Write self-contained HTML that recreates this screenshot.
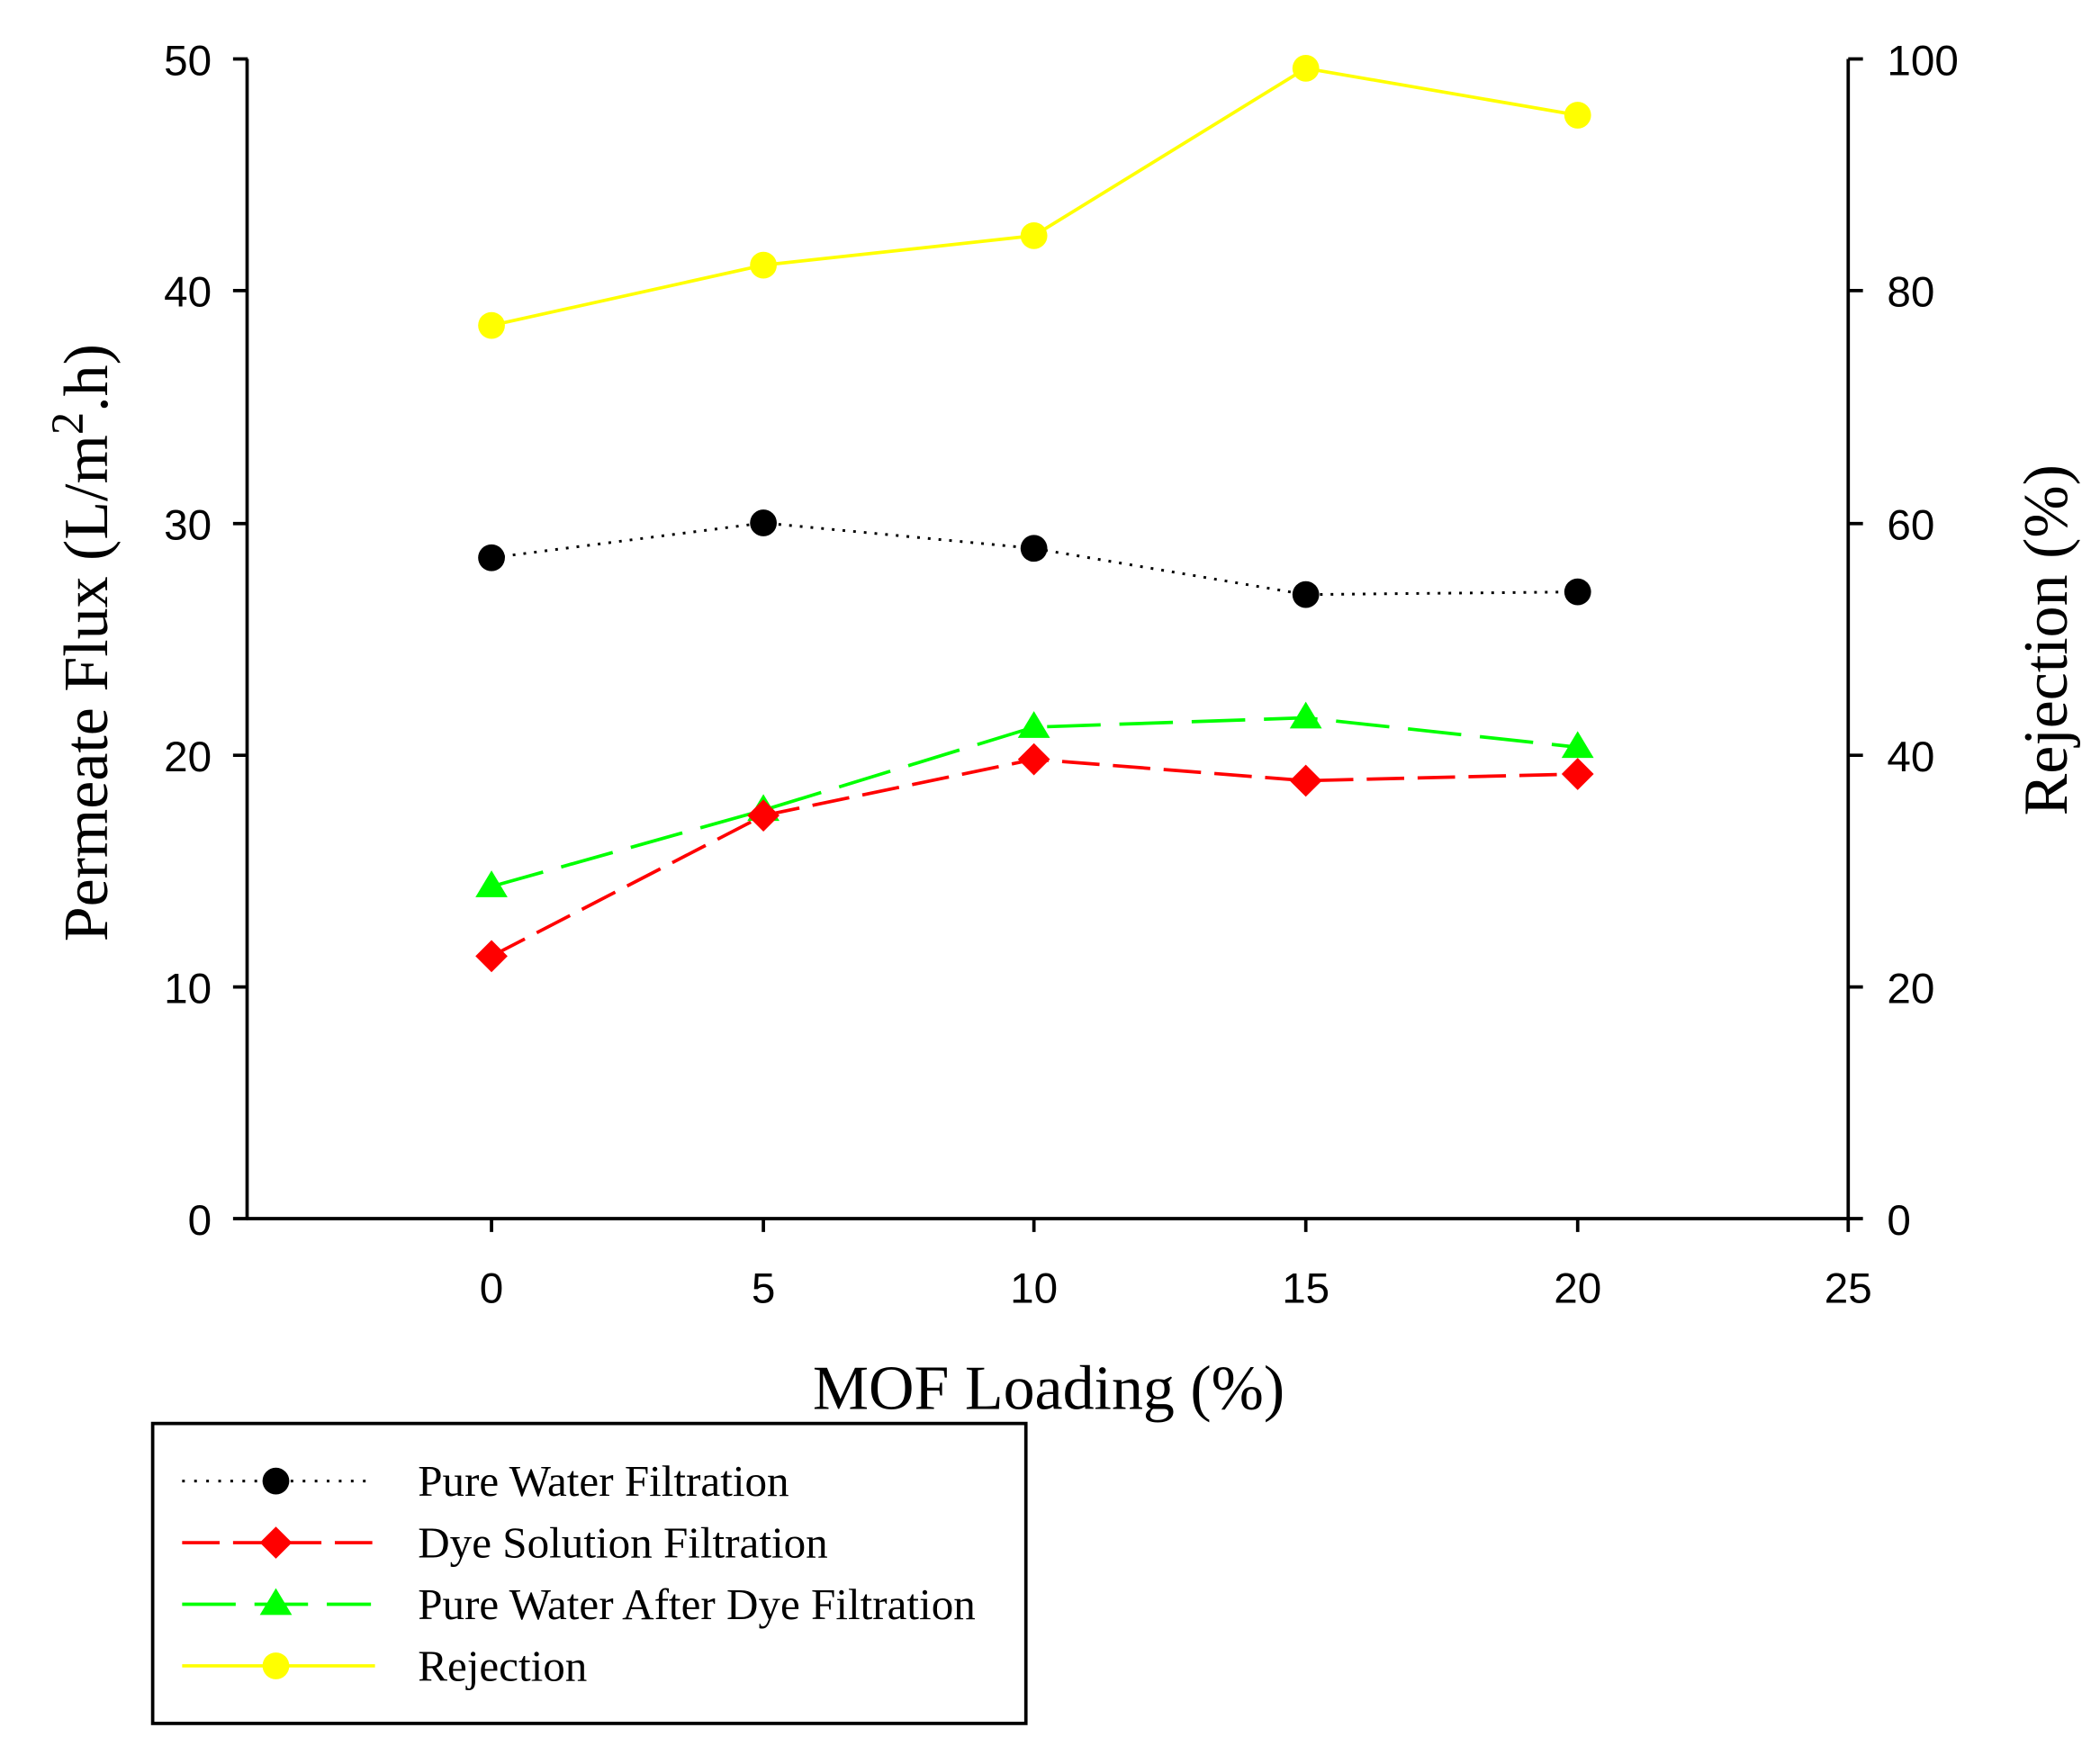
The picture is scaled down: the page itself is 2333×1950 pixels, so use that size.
<!DOCTYPE html><html><head><style>body{margin:0;background:#fff}</style></head><body>
<svg width="2333" height="1945" viewBox="0 0 1568 1307.2" xmlns="http://www.w3.org/2000/svg">
<rect width="1568" height="1308" fill="#fff"/>
<g stroke="#000" stroke-width="2.5" fill="none">
<line x1="184.5" y1="44" x2="184.5" y2="911"/>
<line x1="1380" y1="44" x2="1380" y2="911"/>
<line x1="184" y1="910" x2="1391" y2="910"/>
<path d="M174 44H185M174 217H185M174 391H185M174 564H185M174 737H185M174 910H185"/>
<path d="M1380 44H1391M1380 217H1391M1380 391H1391M1380 564H1391M1380 737H1391"/>
<path d="M367 910V920M570 910V920M772 910V920M975 910V920M1178 910V920M1380 910V920"/>
</g>
<g font-family="Liberation Sans, sans-serif" font-size="32" fill="#000">
<g text-anchor="end"><text x="158" y="56">50</text><text x="158" y="229">40</text><text x="158" y="403">30</text><text x="158" y="576">20</text><text x="158" y="749">10</text><text x="158" y="922">0</text></g>
<g text-anchor="start"><text x="1409" y="56">100</text><text x="1409" y="229">80</text><text x="1409" y="403">60</text><text x="1409" y="576">40</text><text x="1409" y="749">20</text><text x="1409" y="922">0</text></g>
<g text-anchor="middle"><text x="367" y="973">0</text><text x="570" y="973">5</text><text x="772" y="973">10</text><text x="975" y="973">15</text><text x="1178" y="973">20</text><text x="1380" y="973">25</text></g>
</g>
<g font-family="Liberation Serif, serif" font-size="47" fill="#000">
<text x="783" y="1052" text-anchor="middle">MOF Loading (%)</text>
<text transform="translate(80,480) rotate(-90)" text-anchor="middle">Permeate Flux (L/m<tspan dy="-18" font-size="34">2</tspan><tspan dy="18">.h)</tspan></text>
<text transform="translate(1543,478) rotate(-90)" text-anchor="middle">Rejection (%)</text>
</g>
<polyline points="367,243 570,198 772,176 975,51 1178,86" fill="none" stroke="#ffff00" stroke-width="2.5"/>
<polyline points="367,416.5 570,390.5 772,409.5 975,444 1178,442" fill="none" stroke="#000" stroke-width="2" stroke-dasharray="2,6"/>
<polyline points="367,714 570,609 772,567 975,583 1178,578" fill="none" stroke="#ff0000" stroke-width="2.5" stroke-dasharray="28,10"/>
<polyline points="367,662 570,605 772,543 975,536 1178,558" fill="none" stroke="#00ff00" stroke-width="2.5" stroke-dasharray="40,14"/>
<g fill="#ffff00"><circle cx="367" cy="243" r="10"/><circle cx="570" cy="198" r="10"/><circle cx="772" cy="176" r="10"/><circle cx="975" cy="51" r="10"/><circle cx="1178" cy="86" r="10"/></g>
<g fill="#000"><circle cx="367" cy="416.5" r="10"/><circle cx="570" cy="390.5" r="10"/><circle cx="772" cy="409.5" r="10"/><circle cx="975" cy="444" r="10"/><circle cx="1178" cy="442" r="10"/></g>
<g fill="#00ff00"><path d="M367 650L379 670H355Z"/><path d="M570 593L582 613H558Z"/><path d="M772 531L784 551H760Z"/><path d="M975 524L987 544H963Z"/><path d="M1178 546L1190 566H1166Z"/></g>
<g fill="#ff0000"><path d="M367 702L379 714L367 726L355 714Z"/><path d="M570 597L582 609L570 621L558 609Z"/><path d="M772 555L784 567L772 579L760 567Z"/><path d="M975 571L987 583L975 595L963 583Z"/><path d="M1178 566L1190 578L1178 590L1166 578Z"/></g>
<rect x="114" y="1063" width="652" height="224" fill="none" stroke="#000" stroke-width="2.5"/>
<line x1="136" y1="1106" x2="277" y2="1106" stroke="#000" stroke-width="2" stroke-dasharray="2,7"/>
<circle cx="206" cy="1106" r="10" fill="#000"/>
<line x1="136" y1="1152" x2="280" y2="1152" stroke="#ff0000" stroke-width="2.5" stroke-dasharray="28,10"/>
<path d="M206 1140L218 1152L206 1164L194 1152Z" fill="#ff0000"/>
<line x1="136" y1="1198" x2="277" y2="1198" stroke="#00ff00" stroke-width="2.5" stroke-dasharray="40,14"/>
<path d="M206 1186L218 1206H194Z" fill="#00ff00"/>
<line x1="136" y1="1244" x2="280" y2="1244" stroke="#ffff00" stroke-width="2.5"/>
<circle cx="206" cy="1244" r="10" fill="#ffff00"/>
<g font-family="Liberation Serif, serif" font-size="33" fill="#000">
<text x="312" y="1117">Pure Water Filtration</text>
<text x="312" y="1163">Dye Solution Filtration</text>
<text x="312" y="1209">Pure Water After Dye Filtration</text>
<text x="312" y="1255">Rejection</text>
</g>
</svg>
</body></html>
